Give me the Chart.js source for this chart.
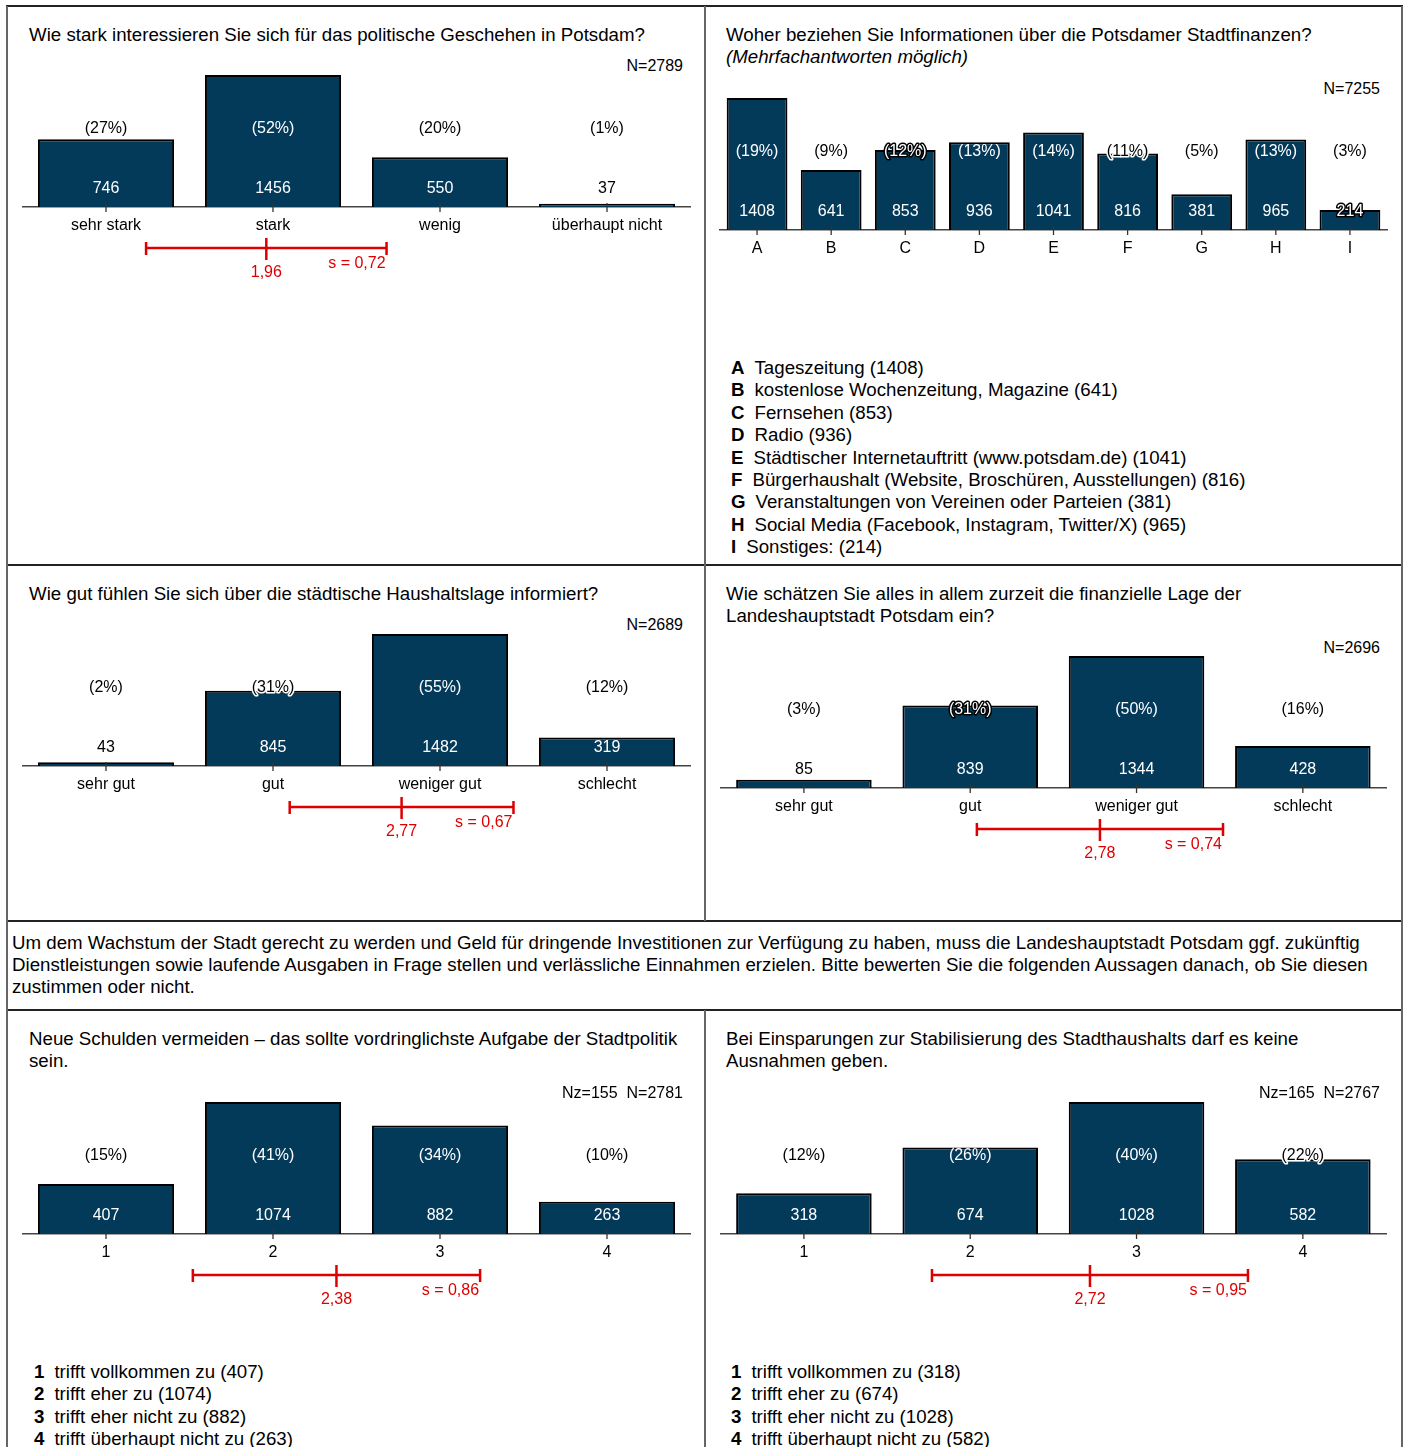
<!DOCTYPE html>
<html lang="de">
<head>
<meta charset="utf-8">
<title>Umfrage Stadtfinanzen Potsdam</title>
<script src="https://cdn.jsdelivr.net/npm/chart.js@4.4.1/dist/chart.umd.min.js"></script>
<style>
  html, body { margin: 0; padding: 0; background: #fff; }
  body { width: 1403px; height: 1447px; position: relative; overflow: hidden;
         font-family: Arial, "Liberation Sans", sans-serif; color: #000; }
  .line { position: absolute; background: #222; }
  .vline { position: absolute; background: #666; width: 1.5px; }
  .txt { position: absolute; font-size: 18.7px; line-height: 22px; white-space: nowrap; }
  .n { position: absolute; font-size: 16px; line-height: 20px; white-space: nowrap; text-align: right; }
  .legend { position: absolute; font-size: 18.7px; line-height: 22.4px; white-space: nowrap; }
  .legend b { display: inline-block; margin-right: 10px; }
  .box { position: absolute; }
</style>
</head>
<body>

<!-- frame -->
<div class="line" style="left:6px; top:5px; width:1397px; height:2px;"></div>
<div class="line" style="left:6px; top:564px; width:1397px; height:2px;"></div>
<div class="line" style="left:6px; top:920px; width:1397px; height:2px;"></div>
<div class="line" style="left:6px; top:1009px; width:1397px; height:2px;"></div>
<div class="vline" style="left:6px; top:6px; height:1441px;"></div>
<div class="vline" style="left:1401px; top:6px; height:1441px;"></div>
<div class="vline" style="left:704px; top:6px; height:915px;"></div>
<div class="vline" style="left:704px; top:1010px; height:437px;"></div>

<!-- panel 1 -->
<div class="txt" style="left:29px; top:24px;">Wie stark interessieren Sie sich für das politische Geschehen in Potsdam?</div>
<div class="n" style="right:720px; top:56px;">N=2789</div>
<div class="box" style="left:7px; top:57px; width:697px; height:240px;"><canvas id="c1"></canvas></div>

<!-- panel 2 -->
<div class="txt" style="left:726px; top:24px;">Woher beziehen Sie Informationen über die Potsdamer Stadtfinanzen?<br><i>(Mehrfachantworten möglich)</i></div>
<div class="n" style="right:23px; top:79px;">N=7255</div>
<div class="box" style="left:706px; top:80px; width:695px; height:240px;"><canvas id="c2"></canvas></div>
<div class="legend" style="left:731px; top:357px;">
  <b>A</b>Tageszeitung (1408)<br>
  <b>B</b>kostenlose Wochenzeitung, Magazine (641)<br>
  <b>C</b>Fernsehen (853)<br>
  <b>D</b>Radio (936)<br>
  <b>E</b>Städtischer Internetauftritt (www.potsdam.de) (1041)<br>
  <b>F</b>Bürgerhaushalt (Website, Broschüren, Ausstellungen) (816)<br>
  <b>G</b>Veranstaltungen von Vereinen oder Parteien (381)<br>
  <b>H</b>Social Media (Facebook, Instagram, Twitter/X) (965)<br>
  <b>I</b>Sonstiges: (214)
</div>

<!-- panel 3 -->
<div class="txt" style="left:29px; top:583px;">Wie gut fühlen Sie sich über die städtische Haushaltslage informiert?</div>
<div class="n" style="right:720px; top:615px;">N=2689</div>
<div class="box" style="left:7px; top:616px; width:697px; height:240px;"><canvas id="c3"></canvas></div>

<!-- panel 4 -->
<div class="txt" style="left:726px; top:583px;">Wie schätzen Sie alles in allem zurzeit die finanzielle Lage der<br>Landeshauptstadt Potsdam ein?</div>
<div class="n" style="right:23px; top:638px;">N=2696</div>
<div class="box" style="left:706px; top:638px; width:695px; height:240px;"><canvas id="c4"></canvas></div>

<!-- panel 5 -->
<div class="txt" style="left:12px; top:932px;">Um dem Wachstum der Stadt gerecht zu werden und Geld für dringende Investitionen zur Verfügung zu haben, muss die Landeshauptstadt Potsdam ggf. zukünftig<br>Dienstleistungen sowie laufende Ausgaben in Frage stellen und verlässliche Einnahmen erzielen. Bitte bewerten Sie die folgenden Aussagen danach, ob Sie diesen<br>zustimmen oder nicht.</div>

<!-- panel 6 -->
<div class="txt" style="left:29px; top:1028px;">Neue Schulden vermeiden – das sollte vordringlichste Aufgabe der Stadtpolitik<br>sein.</div>
<div class="box" style="left:7px; top:1084px; width:697px; height:240px;"><canvas id="c6"></canvas></div>
<div class="n" style="right:720px; top:1083px;">Nz=155&nbsp;&nbsp;N=2781</div>
<div class="legend" style="left:34px; top:1361px;">
  <b>1</b>trifft vollkommen zu (407)<br>
  <b>2</b>trifft eher zu (1074)<br>
  <b>3</b>trifft eher nicht zu (882)<br>
  <b>4</b>trifft überhaupt nicht zu (263)
</div>

<!-- panel 7 -->
<div class="txt" style="left:726px; top:1028px;">Bei Einsparungen zur Stabilisierung des Stadthaushalts darf es keine<br>Ausnahmen geben.</div>
<div class="box" style="left:706px; top:1084px; width:695px; height:240px;"><canvas id="c7"></canvas></div>
<div class="n" style="right:23px; top:1083px;">Nz=165&nbsp;&nbsp;N=2767</div>
<div class="legend" style="left:731px; top:1361px;">
  <b>1</b>trifft vollkommen zu (318)<br>
  <b>2</b>trifft eher zu (674)<br>
  <b>3</b>trifft eher nicht zu (1028)<br>
  <b>4</b>trifft überhaupt nicht zu (582)
</div>

<script>
// --- data ---
const interestLabels = ['sehr stark', 'stark', 'wenig', 'überhaupt nicht'];
const interestCounts = [746, 1456, 550, 37];
const interestPercents = [27, 52, 20, 1];
const interestMean = 1.96, interestSd = 0.72;

const sourceLabels = ['A', 'B', 'C', 'D', 'E', 'F', 'G', 'H', 'I'];
const sourceCounts = [1408, 641, 853, 936, 1041, 816, 381, 965, 214];
const sourcePercents = [19, 9, 12, 13, 14, 11, 5, 13, 3];

const informedLabels = ['sehr gut', 'gut', 'weniger gut', 'schlecht'];
const informedCounts = [43, 845, 1482, 319];
const informedPercents = [2, 31, 55, 12];
const informedMean = 2.77, informedSd = 0.67;

const situationLabels = ['sehr gut', 'gut', 'weniger gut', 'schlecht'];
const situationCounts = [85, 839, 1344, 428];
const situationPercents = [3, 31, 50, 16];
const situationMean = 2.78, situationSd = 0.74;

const agreeLabels = ['1', '2', '3', '4'];
const debtCounts = [407, 1074, 882, 263];
const debtPercents = [15, 41, 34, 10];
const debtMean = 2.38, debtSd = 0.86;

const savingCounts = [318, 674, 1028, 582];
const savingPercents = [12, 26, 40, 22];
const savingMean = 2.72, savingSd = 0.95;

// --- drawing ---
const FONT = 'Arial, "Liberation Sans", sans-serif';
const BAR_FILL = '#033a5a';
const RED = '#dd0000';
Chart.defaults.font.family = FONT;

// text sits on a bar edge -> draw with a halo like the original
function drawLabel(ctx, text, x, y, barTop) {
  const d = barTop - y;
  ctx.lineJoin = 'round';
  if (d > 8) {
    ctx.fillStyle = '#000';
  } else if (d < -8) {
    ctx.fillStyle = '#fff';
  } else if (d > 0) {
    ctx.strokeStyle = '#fff'; ctx.lineWidth = 3;
    ctx.strokeText(text, x, y);
    ctx.fillStyle = '#000';
  } else {
    ctx.strokeStyle = '#000'; ctx.lineWidth = 3;
    ctx.strokeText(text, x, y);
    ctx.fillStyle = '#fff';
  }
  ctx.fillText(text, x, y);
}

const barTexts = {
  id: 'barTexts',
  afterDatasetsDraw(chart, args, opts) {
    const ctx = chart.ctx;
    const xs = chart.scales.x;
    const axisY = chart.chartArea.bottom;
    const meta = chart.getDatasetMeta(0);
    const values = chart.data.datasets[0].data;
    ctx.save();
    meta.data.forEach((bar, i) => {
      ctx.strokeStyle = '#333';
      ctx.lineWidth = 1.3;
      ctx.beginPath();
      ctx.moveTo(bar.x, axisY - 4);
      ctx.lineTo(bar.x, axisY + 5);
      ctx.stroke();
    });
    ctx.font = '16px ' + FONT;
    ctx.textAlign = 'center';
    ctx.textBaseline = 'middle';
    meta.data.forEach((bar, i) => {
      drawLabel(ctx, '(' + opts.percents[i] + '%)', bar.x, axisY - 78, bar.y);
      drawLabel(ctx, String(values[i]), bar.x, axisY - 18, bar.y);
    });

    if (opts.mean != null) {
      // mean +/- s, category index 0 is answer value 1
      const y = axisY + 41;
      const m = xs.getPixelForValue(opts.mean - 1);
      const l = xs.getPixelForValue(opts.mean - opts.sd - 1);
      const r = xs.getPixelForValue(opts.mean + opts.sd - 1);
      ctx.strokeStyle = RED;
      ctx.lineWidth = 2.5;
      ctx.beginPath();
      ctx.moveTo(l, y); ctx.lineTo(r, y);
      ctx.moveTo(l, y - 6); ctx.lineTo(l, y + 7);
      ctx.moveTo(r, y - 6); ctx.lineTo(r, y + 7);
      ctx.moveTo(m, y - 10); ctx.lineTo(m, y + 12);
      ctx.stroke();
      ctx.fillStyle = RED;
      ctx.font = '16px ' + FONT;
      ctx.fillText(opts.mean.toFixed(2).replace('.', ','), m, axisY + 66);
      ctx.textAlign = 'right';
      ctx.fillText('s = ' + opts.sd.toFixed(2).replace('.', ','), r - 1, axisY + 57);
    }
    ctx.restore();
  }
};

function makeChart(id, labels, counts, percents, mean, sd, padL, padR, barPct) {
  return new Chart(document.getElementById(id), {
    type: 'bar',
    data: {
      labels: labels,
      datasets: [{
        data: counts,
        backgroundColor: BAR_FILL,
        borderColor: '#000',
        borderWidth: 2,
        barPercentage: barPct,
        categoryPercentage: 1
      }]
    },
    options: {
      responsive: true,
      maintainAspectRatio: false,
      animation: false,
      layout: { padding: { left: padL, right: padR, top: 18, bottom: 60 } },
      plugins: {
        legend: { display: false },
        tooltip: { enabled: false },
        barTexts: { percents: percents, mean: mean, sd: sd }
      },
      scales: {
        x: {
          grid: { display: false, drawTicks: false },
          border: { color: '#444', width: 1.5 },
          ticks: { color: '#000', font: { size: 16 }, padding: 9, maxRotation: 0, autoSkip: false },
          afterFit(scale) { scale.height = 30; }
        },
        y: {
          display: false,
          min: 0,
          max: Math.max(...counts)
        }
      }
    },
    plugins: [barTexts]
  });
}

makeChart('c1', interestLabels, interestCounts, interestPercents, interestMean, interestSd, 15.5, 13.5, 0.815);
makeChart('c2', sourceLabels, sourceCounts, sourcePercents, null, null, 14, 14, 0.82);
makeChart('c3', informedLabels, informedCounts, informedPercents, informedMean, informedSd, 15.5, 13.5, 0.815);
makeChart('c4', situationLabels, situationCounts, situationPercents, situationMean, situationSd, 14.75, 15, 0.815);
makeChart('c6', agreeLabels, debtCounts, debtPercents, debtMean, debtSd, 15.5, 13.5, 0.815);
makeChart('c7', agreeLabels, savingCounts, savingPercents, savingMean, savingSd, 14.75, 15, 0.815);
</script>
</body>
</html>
